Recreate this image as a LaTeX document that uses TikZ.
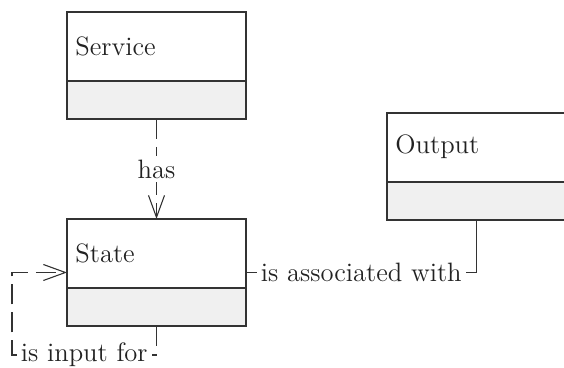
\documentclass[tikz,border=0pt]{standalone}
\usetikzlibrary{arrows.meta}
\definecolor{linec}{HTML}{333333}
\definecolor{compfill}{HTML}{F0F0F0}
\definecolor{txtc}{HTML}{222222}
\begin{document}
\begin{tikzpicture}[x=0.5pt,y=-0.5pt,
  font=\fontsize{13.3}{16}\selectfont,
  every node/.style={text=txtc},
  cls/.style={draw=linec, line width=0.55pt, minimum width=89.5pt, minimum height=53.5pt, inner sep=0pt, outer sep=0pt, anchor=north west},
  comp/.style={draw=linec, line width=0.55pt, fill=compfill},
  cname/.style={anchor=west, inner sep=0pt},
  conn/.style={draw=linec, line width=0.55pt},
  dashconn/.style={conn, dash pattern=on 10pt off 4pt},
  lbl/.style={fill=white, inner sep=2pt},
  openarrow/.style={-{Straight Barb[length=11pt,width=8pt,line width=0.55pt]}}
]
\useasboundingbox (0,0) rectangle (564,368);

% classes
\node[cls] (svc) at (67,12) {};
\draw[comp] (svc.south west) rectangle ([yshift=19pt]svc.south east);
\node[cname] (svcname) at ([xshift=4pt,yshift=-17pt]svc.north west) {Service};

\node[cls] (st) at (67,219) {};
\draw[comp] (st.south west) rectangle ([yshift=19pt]st.south east);
\node[cname] (stname) at ([xshift=4pt,yshift=-17pt]st.north west) {State};

\node[cls] (out) at (387,113) {};
\draw[comp] (out.south west) rectangle ([yshift=19pt]out.south east);
\node[cname] (outname) at ([xshift=4pt,yshift=-17pt]out.north west) {Output};

% connectors
\draw[dashconn, openarrow] (svc.south) -- node[lbl] {has} (st.north);
\draw[conn] (st.east) -| node[lbl, pos=0.25] {is associated with} (out.south);
\coordinate (loopbl) at (12,355);
\draw[dashconn, openarrow] (st.south) |- node[lbl, pos=0.75] {is input for} (loopbl) |- (st.west);
\end{tikzpicture}
\end{document}
